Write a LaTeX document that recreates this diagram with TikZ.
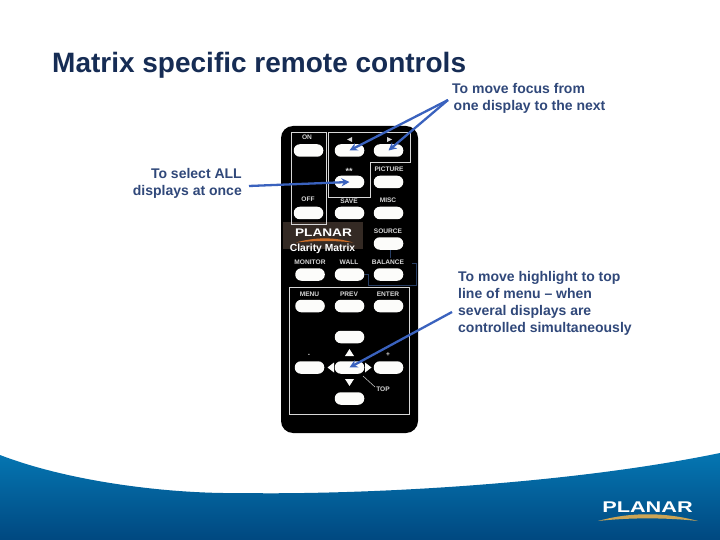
\documentclass[tikz,border=0pt]{standalone}
\usepackage{fontspec}
\usepackage{graphicx}
\setmainfont{Liberation Sans}
\usetikzlibrary{arrows.meta}
\definecolor{titlecol}{RGB}{22,44,84}
\definecolor{labelcol}{RGB}{48,72,122}
\definecolor{arrowcol}{RGB}{58,98,190}
\definecolor{bandtop}{RGB}{5,118,178}
\definecolor{bandbot}{RGB}{0,72,128}
\definecolor{keycol}{RGB}{252,252,250}
\definecolor{keylabel}{RGB}{215,215,215}
\definecolor{frameblue}{RGB}{40,62,100}
\definecolor{logobg}{RGB}{52,42,36}
\definecolor{swooshsmall}{RGB}{205,110,40}
\definecolor{swooshgold}{RGB}{205,165,85}
\tikzset{
  x=1pt,y=-1pt,
  remotekey/.style={draw=none,fill=keycol,rounded corners=6pt,minimum width=29.5pt,minimum height=12.5pt,inner sep=0pt},
  keytext/.style={text=keylabel,font=\bfseries\fontsize{6.6}{7}\selectfont,inner sep=0pt},
  callout/.style={text=labelcol,font=\bfseries\fontsize{14}{17}\selectfont,inner sep=0pt,align=left},
  pointer/.style={draw=arrowcol,line width=2.3pt,-{Stealth[length=8pt,width=8pt]}},
  panelline/.style={draw=keylabel,line width=.9pt},
  thinblue/.style={draw=frameblue,line width=.8pt},
  triangle/.style={fill=keycol,draw=none}
}
\begin{document}
\begin{tikzpicture}
\useasboundingbox (0,0) rectangle (720,540);
\fill[white] (0,0) rectangle (720,540);
% band
\shade[top color=bandtop,bottom color=bandbot,draw=none]
  (0,455) .. controls (70,482) and (170,494) .. (240,493)
  .. controls (350,495) and (560,486) .. (720,453) -- (720,540) -- (0,540) -- cycle;
% title
\node[anchor=base west,text=titlecol,font=\bfseries\fontsize{28}{30}\selectfont,inner sep=0pt] (title) at (52,72.5) {Matrix specific remote controls};
% remote
\fill[black,rounded corners=12pt] (281,126) rectangle (418,433);
% logo
\fill[logobg] (283,222) rectangle (363,249);
\draw[panelline] (291,132.5) rectangle (326,224);
\draw[panelline] (328.5,132.5) -- (410,132.5) -- (410,162) -- (370,162) -- (370,197) -- (328.5,197) -- cycle;
\draw[panelline] (289,287) rectangle (409,414);
\node[text=white,font=\bfseries\fontsize{11}{12}\selectfont,inner sep=0pt] (rlogo) at (323.5,233) {\scalebox{1.24}[1]{PLANAR}};
\fill[swooshsmall] (296,242.5) .. controls (315,237) and (335,237) .. (353,242.5) .. controls (335,240.5) and (315,240.5) .. (296,242.5) -- cycle;
\node[text=white,font=\bfseries\fontsize{10.3}{11}\selectfont,inner sep=0pt] (clarity) at (322.5,249) {Clarity Matrix};
% keys
\node[remotekey] (kon) at (308.5,150.5) {};
\node[remotekey] (kleft) at (349.5,150.5) {};
\node[remotekey] (kright) at (388.5,150.5) {};
\node[remotekey] (kstars) at (349.5,182) {};
\node[remotekey] (kpicture) at (388.5,182) {};
\node[remotekey] (koff) at (308.5,213) {};
\node[remotekey] (ksave) at (349.5,213) {};
\node[remotekey] (kmisc) at (388.5,213) {};
\node[remotekey] (ksource) at (388.5,243.5) {};
\node[remotekey] (kmonitor) at (310,274.5) {};
\node[remotekey] (kwall) at (349.5,274.5) {};
\node[remotekey] (kbalance) at (388.5,274.5) {};
\node[remotekey] (kmenu) at (310,306) {};
\node[remotekey] (kprev) at (349.5,306) {};
\node[remotekey] (kenter) at (388.5,306) {};
\node[remotekey] (kup) at (349.5,337) {};
\node[remotekey] (kmid) at (349.5,367.5) {};
\node[remotekey] (kminus) at (309.5,367.5) {};
\node[remotekey] (kplus) at (388.5,367.5) {};
\node[remotekey] (kdown) at (349.5,398.5) {};
% key labels
\node[keytext] (lon) at (307,137.5) {ON};
\node[keytext] (lpic) at (389,169) {PICTURE};
\node[keytext,font=\bfseries\fontsize{9}{9}\selectfont] (lstars) at (349,171.5) {**};
\node[keytext] (loff) at (308,199.5) {OFF};
\node[keytext] (lsave) at (349,201.5) {SAVE};
\node[keytext] (lmisc) at (388,200) {MISC};
\node[keytext] (lsource) at (388,231.5) {SOURCE};
\node[keytext] (lmonitor) at (310,262) {MONITOR};
\node[keytext] (lwall) at (349,262) {WALL};
\node[keytext] (lbalance) at (388,262) {BALANCE};
\node[keytext] (lmenu) at (309.5,294) {MENU};
\node[keytext] (lprev) at (349,294) {PREV};
\node[keytext] (lenter) at (388,294) {ENTER};
\node[keytext] (ltop) at (383,389) {TOP};
\node[keytext] (lminus) at (309,355) {-};
\node[keytext] (lplus) at (388,355) {+};
% triangles
\fill[keylabel] (347,139.5) -- (352,137) -- (352,142) -- cycle;
\fill[keylabel] (387,137) -- (392,139.5) -- (387,142) -- cycle;
\fill[triangle] (349.5,349) -- (354,356) -- (345,356) -- cycle;
\fill[triangle] (349.5,386) -- (354,379) -- (345,379) -- cycle;
\fill[triangle] (327.5,367.5) -- (334,362.5) -- (334,372.5) -- cycle;
\fill[triangle] (371.5,367.5) -- (365,362.5) -- (365,372.5) -- cycle;
\draw[keylabel,line width=.5pt] (363,376) -- (375,387);
% thin blue frame
\draw[thinblue] (412,263) -- (416,263) -- (416,285) -- (368.5,285) -- (368.5,274) -- (365,274);
\draw[thinblue] (390,250) -- (390,258);
% labels
\node[callout,anchor=north west] (tfocus) at (452,83) {To move focus from\\\hspace*{1.5pt}one display to the next};
\node[callout,anchor=north east,align=right] (tall) at (242,168.5) {To select ALL\\displays at once};
\node[callout,anchor=north west] (thigh) at (458,271.5) {To move highlight to top\\line of menu – when\\several displays are\\controlled simultaneously};
% arrows
\coordinate (afocus) at (448,100);
\coordinate (aall) at (249,186);
\coordinate (ahigh) at (452,312);
\draw[pointer] (afocus) -- (kleft.center);
\draw[pointer] (afocus) -- (kright.center);
\draw[pointer] (aall) -- (kstars.center);
\draw[pointer] (ahigh) -- (kmid.center);
% corner logo
\node[text=white,font=\bfseries\fontsize{15.5}{16}\selectfont,inner sep=0pt] (blogo) at (647.5,507) {\scalebox{1.4}[1]{PLANAR}};
\fill[swooshgold] (598,521) .. controls (630,512) and (665,512) .. (698,521) .. controls (665,517.5) and (630,517.5) .. (598,521) -- cycle;
\end{tikzpicture}
\end{document}
